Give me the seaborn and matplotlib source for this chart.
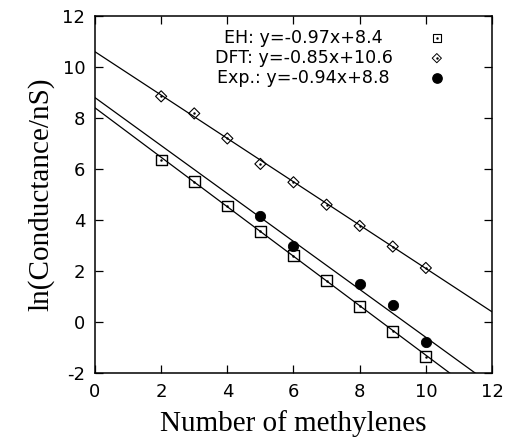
import numpy as np
import matplotlib
matplotlib.use("Agg")
import matplotlib.pyplot as plt
import seaborn as sns

# data
eh_x = [2, 3, 4, 5, 6, 7, 8, 9, 10]
eh_y = [6.35, 5.5, 4.55, 3.55, 2.6, 1.62, 0.62, -0.37, -1.36]

dft_x = [2, 3, 4, 5, 6, 7, 8, 9, 10]
dft_y = [8.85, 8.18, 7.2, 6.2, 5.48, 4.6, 3.77, 2.96, 2.12]

exp_x = [5, 6, 8, 9, 10]
exp_y = [4.16, 3.0, 1.48, 0.67, -0.8]

# fitted lines (slope, intercept) as given in the legend
slopes = [-0.97, -0.85, -0.94]
intercepts = [8.4, 10.6, 8.8]
labels = ["EH: y=-0.97x+8.4", "DFT: y=-0.85x+10.6", "Exp.: y=-0.94x+8.8"]

sns.set_theme(style="ticks")
plt.rcParams["font.family"] = ["DejaVu Sans"]
plt.rcParams["axes.unicode_minus"] = False

fig = plt.figure(figsize=(5.09, 4.38), dpi=100)
ax = fig.add_axes([0.1866, 0.1484, 0.78, 0.815])

xfit = np.array([0, 12])
for m, b in zip(slopes, intercepts):
    ax.plot(xfit, m * xfit + b, color="black", lw=0.9, zorder=1)

sns.scatterplot(x=eh_x, y=eh_y, ax=ax, marker="s", s=60, facecolor="none",
                edgecolor="black", linewidth=1.0, zorder=3)
sns.scatterplot(x=dft_x, y=dft_y, ax=ax, marker="D", s=32, facecolor="none",
                edgecolor="black", linewidth=0.8, zorder=3)
sns.scatterplot(x=exp_x, y=exp_y, ax=ax, marker="o", s=55, color="black",
                edgecolor="black", zorder=3)
# gnuplot-style centre dots in open markers
ax.scatter(eh_x + dft_x, eh_y + dft_y, s=0.6, color="black", zorder=4)

ax.set_xlim(0, 12)
ax.set_ylim(-2, 12)
ax.set_xticks(range(0, 13, 2))
ax.set_yticks(range(-2, 13, 2))
ax.tick_params(direction="in", length=6, width=0.9, top=True, right=True,
               labelsize=13, pad=7, color="black", labelcolor="black")
for sp in ax.spines.values():
    sp.set_linewidth(1.1)
    sp.set_color("black")

ax.set_xlabel("Number of methylenes", family="Liberation Serif", fontsize=21,
              labelpad=7, color="black")
ax.set_ylabel("ln(Conductance/nS)", family="Liberation Serif", fontsize=21,
              labelpad=6, color="black")

# gnuplot-style key: centred text, symbol on the right
key_styles = [
    dict(marker="s", s=30, facecolor="none", edgecolor="black", linewidth=0.8),
    dict(marker="D", s=22, facecolor="none", edgecolor="black", linewidth=0.7),
    dict(marker="o", s=45, color="black"),
]
for i, (lab, st) in enumerate(zip(labels, key_styles)):
    ky = 0.938 - i * 0.056
    ax.text(0.526, ky, lab, transform=ax.transAxes, ha="center",
            va="center", fontsize=12.6, color="black")
    ax.scatter([0.861], [ky], transform=ax.transAxes, clip_on=False, **st)
    if i < 2:
        ax.scatter([0.861], [ky], transform=ax.transAxes, s=0.6, color="black")

fig.savefig("out.png", dpi=100)
